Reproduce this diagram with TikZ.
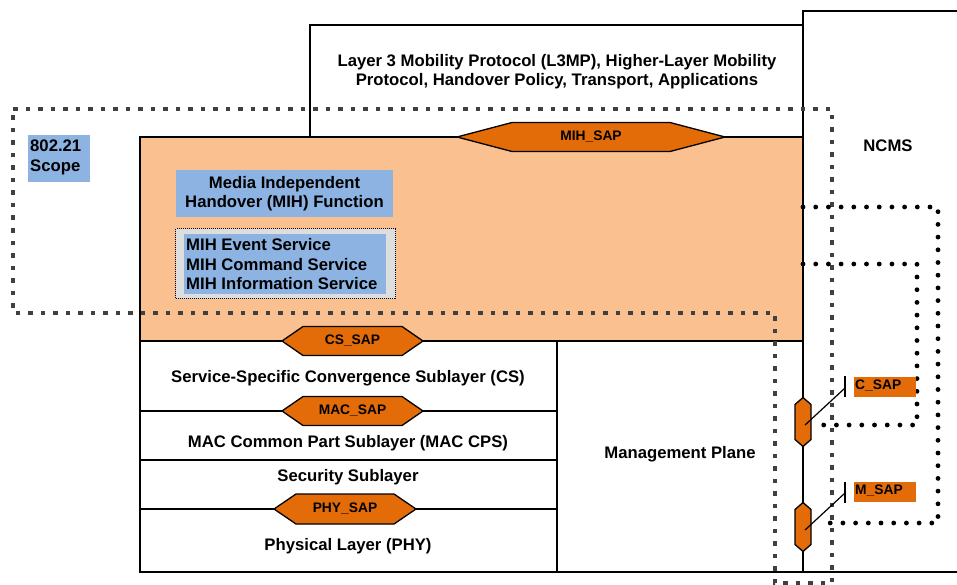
\documentclass[tikz,border=0pt]{standalone}
\usepackage{fontspec}
\setmainfont{Liberation Sans}
\definecolor{peach}{HTML}{FAC090}
\definecolor{sapor}{HTML}{E36C09}
\definecolor{mihblue}{HTML}{8DB3E2}
\definecolor{scopegrey}{HTML}{404040}
\definecolor{lightgrey}{HTML}{DEDEDE}
\tikzset{
  frame/.style={draw=black, line width=1.3pt},
  maintext/.style={font=\fontsize{16.7}{19.5}\selectfont\bfseries, inner sep=0pt, align=center},
  saphex/.style={draw=black, line width=1.3pt, fill=sapor, line join=miter},
  saplabel/.style={font=\fontsize{13.8}{16}\selectfont\bfseries, inner sep=0pt},
  bluebox/.style={fill=mihblue, inner sep=0pt},
  scopeline/.style={draw=scopegrey, line width=4.5pt, dash pattern=on 4.5pt off 8pt},
  dotline/.style={draw=black, line width=4.8pt, line cap=round, dash pattern=on 0pt off 12.7pt},
  sapbox/.style={fill=sapor, minimum width=62pt, minimum height=20pt, inner sep=0pt, anchor=north west},
}
\newcommand\hsap[7]{%
  \draw[saphex] (#2-#4,#3) -- (#2-#4+#5,#3-#6) -- (#2+#4-#5,#3-#6) -- (#2+#4,#3)
     -- (#2+#4-#5,#3+#6) -- (#2-#4+#5,#3+#6) -- cycle;
  \node[saplabel] (#1) at (#2,#3) {#7};}
\newcommand\vsap[6]{%
  \draw[saphex] (#2,#3-#5) -- (#2+#4,#3-#5+#6) -- (#2+#4,#3+#5-#6) -- (#2,#3+#5)
     -- (#2-#4,#3+#5-#6) -- (#2-#4,#3-#5+#6) -- cycle;
  \coordinate (#1) at (#2,#3);}
\begin{document}
\begin{tikzpicture}[x=1pt,y=-1pt]
\useasboundingbox (0,0) rectangle (957,585);
% top protocol box
\draw[frame, fill=white] (310,25) rectangle (803,137);
\node[maintext] (l3) at (557,71.5) {Layer 3 Mobility Protocol (L3MP), Higher-Layer Mobility\\Protocol, Handover Policy, Transport, Applications};
% NCMS box
\draw[frame] (957,11) -- (803,11) -- (803,572) -- (957,572);
\node[maintext] (ncms) at (888,146) {NCMS};
% MIH function region
\draw[frame, fill=peach] (140,137) rectangle (803,341);
% lower stack
\draw[frame] (140,341) rectangle (557,572);
\draw[frame] (557,341) rectangle (803,572);
\draw[frame] (140,411) -- (557,411);
\draw[frame] (140,460) -- (557,460);
\draw[frame] (140,509) -- (557,509);
\node[maintext] (cs) at (348,378.5) {Service-Specific Convergence Sublayer (CS)};
\node[maintext] (cps) at (348,443.5) {MAC Common Part Sublayer (MAC CPS)};
\node[maintext] (sec) at (348,477.5) {Security Sublayer};
\node[maintext] (phy) at (348,546.5) {Physical Layer (PHY)};
\node[maintext] (mgmt) at (680,454.5) {Management Plane};
% blue boxes
\node[bluebox, minimum width=62pt, minimum height=47pt, anchor=north west] (scopebox) at (28,135) {};
\node[maintext, align=left, anchor=north west] (scopetxt) at (30,140) {802.21\\Scope};
\node[bluebox, maintext, minimum width=217pt, minimum height=47pt] (mihf) at (284.5,193.5) {Media Independent\\Handover (MIH) Function};
\node[draw=black, densely dotted, line width=1pt, fill=lightgrey, minimum width=220pt, minimum height=70pt, anchor=north west] (svcgroup) at (175,228) {};
\node[bluebox, minimum width=202pt, minimum height=60pt, anchor=north west] (svcbox) at (184,234) {};
\node[maintext, align=left, anchor=west] (svctxt) at (186,264.5) {MIH Event Service\\MIH Command Service\\MIH Information Service};
% scope boundary
\draw[scopeline] (13,109) -- (832,109) -- (832,583) -- (775,583) -- (775,313) -- (13,313) -- cycle;
% NCMS dotted loops
\coordinate (outerA) at (803,207);
\coordinate (outerB) at (823,523);
\coordinate (innerA) at (803,264);
\coordinate (innerB) at (815,425);
\draw[dotline] (outerA) -- (938,207) -- (938,523) -- (outerB);
\draw[dotline] (innerA) -- (917,264) -- (917,425) -- (innerB);
% SAPs
\hsap{mihsap}{591}{137}{134}{55}{14.5}{MIH\_SAP}
\hsap{cssap}{352.5}{341}{70.5}{21}{14.5}{CS\_SAP}
\hsap{macsap}{352.5}{411}{70.5}{21}{14.5}{MAC\_SAP}
\hsap{physap}{345}{509}{71}{22}{15}{PHY\_SAP}
\vsap{csaphex}{803}{422}{8}{24.5}{7}
\vsap{msaphex}{803}{527}{8}{24.5}{7}
\node[sapbox] (csapbox) at (854,377) {};
\node[saplabel, anchor=west] (csap) at (855,385.5) {C\_SAP};
\node[sapbox] (msapbox) at (854,482) {};
\node[saplabel, anchor=west] (msap) at (855,490.5) {M\_SAP};
\coordinate (cbar) at (845,388);
\coordinate (mbar) at (845,493);
\draw[line width=1.2pt] ([xshift=2pt,yshift=-3pt]csaphex) -- (cbar);
\draw[line width=1.2pt] (845,376) -- (845,397);
\draw[line width=1.2pt] ([xshift=2pt,yshift=-3pt]msaphex) -- (mbar);
\draw[line width=1.2pt] (845,482) -- (845,503);
\end{tikzpicture}
\end{document}
